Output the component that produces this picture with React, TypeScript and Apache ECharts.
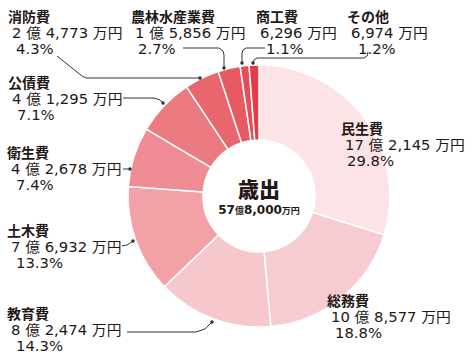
import React, { useEffect, useRef } from "react";
import * as echarts from "echarts";

const categories = ["民生費", "総務費", "教育費", "土木費", "衛生費", "公債費", "消防費", "農林水産業費", "商工費", "その他"];
const valuesMan = [172145, 108577, 82474, 76932, 42678, 41295, 24773, 15856, 6296, 6974];
const colors = ["#fce3e5", "#f7ccd0", "#f6c8cb", "#f2a1a7", "#ef8c93", "#ec7a81", "#e9666e", "#e75a63", "#e54e58", "#e43c45"];
const centerTitle = "歳出";

// label anchor (left x, title center y, percent indent) for each category
const labelPos: [number, number, number][] = [
  [341, 128, 2],
  [327, 300, 4],
  [7, 313, 5],
  [7, 230, 5],
  [7, 152, 5],
  [8, 82, 5],
  [8, 16, 4],
  [131, 16, 3],
  [256, 16, 6],
  [347, 16, 7],
];

const leaders: number[][][] = [
  [[57, 56], [82, 76], [86, 78], [200, 78]],
  [[183, 48], [219, 48], [223, 51], [224, 55], [224, 68]],
  [[265, 48], [246, 48], [243, 50], [242, 53], [242, 63]],
  [[368, 52], [367, 56], [364, 58], [257, 58], [254, 60], [253, 63]],
  [[123, 98], [154, 98], [160, 100], [163, 103]],
  [[123, 169], [130, 169]],
  [[122, 246], [127, 245], [130, 243], [133, 241]],
  [[127, 332], [196, 332], [205, 329], [212, 322]],
];

function fmtMan(v: number): string {
  const oku = Math.floor(v / 10000);
  const man = v % 10000;
  const manStr = man.toLocaleString("en-US");
  return oku > 0 ? `${oku} 億 ${manStr} 万円` : `${manStr} 万円`;
}

export default function App() {
  const ref = useRef<HTMLDivElement>(null);
  useEffect(() => {
    if (!ref.current) return;
    const chart = echarts.init(ref.current, null, { renderer: "svg" });
    const total = valuesMan.reduce((a, b) => a + b, 0);
    const family = "DejaVu Sans, Noto Sans CJK JP, sans-serif";
    const ink = "#231815";
    const graphics: any[] = [];
    categories.forEach((c, i) => {
      const [x, y, ind] = labelPos[i];
      graphics.push({
        type: "text", x, y, z: 100,
        style: { text: c, fontFamily: "Noto Sans CJK JP", fontWeight: "bold", fontSize: 14, fill: ink, textVerticalAlign: "middle" },
      });
      graphics.push({
        type: "text", x: x + 4, y: y + 17, z: 100, scaleX: 1.06,
        style: { text: fmtMan(valuesMan[i]), fontFamily: family, fontSize: 14, fill: ink, textVerticalAlign: "middle" },
      });
      graphics.push({
        type: "text", x: x + 4 + ind, y: y + 33, z: 100, scaleX: 1.06,
        style: { text: ((valuesMan[i] / total) * 100).toFixed(1) + "%", fontFamily: family, fontSize: 14, fill: ink, textVerticalAlign: "middle" },
      });
    });
    leaders.forEach((pts) => {
      graphics.push({ type: "polyline", z: 100, shape: { points: pts }, style: { stroke: "#333", lineWidth: 1, fill: null } });
      const e = pts[pts.length - 1];
      graphics.push({ type: "circle", z: 100, shape: { cx: e[0], cy: e[1], r: 1.7 }, style: { fill: "#333" } });
    });
    const oku = Math.floor(total / 10000);
    const man = (total % 10000).toLocaleString("en-US");
    graphics.push({
      type: "text", x: 259, y: 188, z: 100,
      style: { text: centerTitle, fontFamily: "Noto Sans CJK JP", fontWeight: 900, fontSize: 21, fill: ink, textAlign: "center", textVerticalAlign: "middle" },
    });
    graphics.push({
      type: "text", x: 259, y: 210, z: 100,
      style: {
        text: `{n|${oku}}{k|億}{n|${man}}{k|万円}`,
        textAlign: "center", textVerticalAlign: "middle",
        rich: {
          n: { fontFamily: "DejaVu Sans", fontWeight: "bold", fontSize: 12, fill: ink },
          k: { fontFamily: "Noto Sans CJK JP", fontWeight: "bold", fontSize: 9, fill: ink },
        },
      },
    });
    chart.setOption({
      animation: false,
      series: [{
        type: "pie",
        z: 1,
        center: [259, 196],
        radius: [56, 131],
        startAngle: 90,
        clockwise: true,
        label: { show: false },
        labelLine: { show: false },
        emphasis: { disabled: true },
        itemStyle: { borderColor: "#fff", borderWidth: 1.5 },
        data: categories.map((c, i) => ({ name: c, value: valuesMan[i], itemStyle: { color: colors[i] } })),
      }],
      graphic: graphics,
    });
    return () => chart.dispose();
  }, []);
  return <div ref={ref} style={{ width: 473, height: 363, position: "absolute", left: 0, top: 0 }} />;
}
